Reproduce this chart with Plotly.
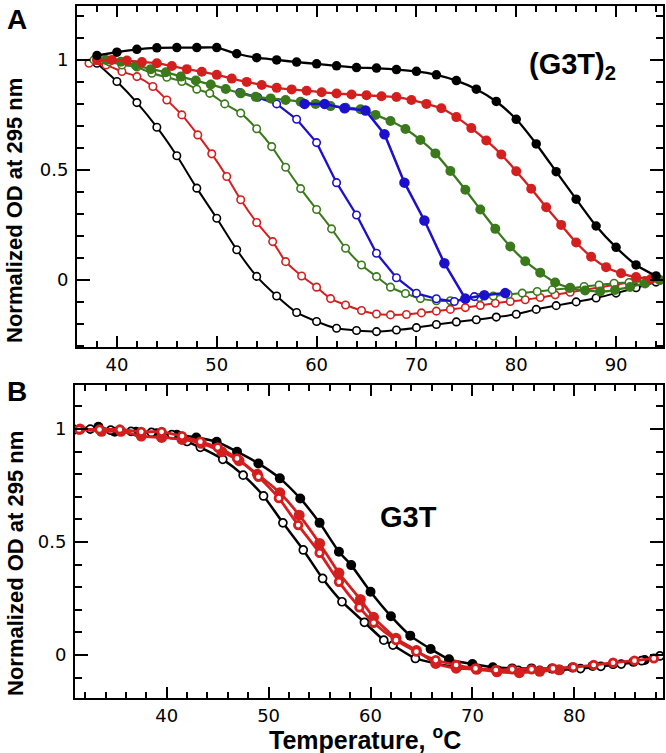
import plotly.graph_objects as go

W, H = 666, 753

# ---------------- Panel A data: (G3T)2 ----------------
a_black_filled_T = [38, 40, 42, 44, 46, 48, 50, 52, 54, 56, 58, 60, 62, 64, 66, 68, 70, 72, 74, 76, 78, 80, 82, 84, 86, 88, 90, 92, 94]
a_black_filled_v = [1.02, 1.035, 1.048, 1.055, 1.056, 1.056, 1.056, 1.028, 1.01, 1.0, 0.99, 0.982, 0.973, 0.965, 0.963, 0.956, 0.948, 0.932, 0.906, 0.867, 0.811, 0.73, 0.618, 0.492, 0.367, 0.245, 0.148, 0.068, 0.018]

a_red_filled_T = [38, 39.5, 41, 42.5, 44, 45.5, 47, 48.5, 50, 51.5, 53, 54.5, 56, 57.5, 59, 60.5, 62, 63.5, 65, 66.5, 68, 69.5, 71, 72.5, 74, 75.5, 77, 78.5, 80, 81.5, 83, 84.5, 86, 87.5, 89, 90.5, 92, 93.5]
a_red_filled_v = [1.0, 1.0, 0.997, 0.99, 0.985, 0.972, 0.958, 0.946, 0.932, 0.915, 0.9, 0.886, 0.873, 0.866, 0.86, 0.853, 0.847, 0.843, 0.839, 0.835, 0.831, 0.818, 0.8, 0.78, 0.74, 0.69, 0.634, 0.57, 0.494, 0.414, 0.33, 0.25, 0.17, 0.105, 0.058, 0.03, 0.013, 0.004]

a_green_filled_T = [38.9, 40.4, 41.9, 43.4, 44.9, 46.4, 47.9, 49.4, 50.9, 52.4, 53.9, 55.4, 56.9, 58.4, 59.9, 61.4, 62.9, 64.4, 65.9, 67.4, 68.9, 70.4, 71.9, 73.4, 74.9, 76.4, 77.9, 79.4, 80.9, 82.4, 83.9, 85.4, 86.9, 88.4, 89.9, 91.4, 92.9, 94.4]
a_green_filled_v = [1.0, 0.992, 0.975, 0.958, 0.944, 0.924, 0.906, 0.888, 0.868, 0.848, 0.832, 0.825, 0.818, 0.81, 0.8, 0.79, 0.783, 0.776, 0.75, 0.722, 0.686, 0.636, 0.575, 0.495, 0.41, 0.32, 0.232, 0.152, 0.085, 0.033, -0.012, -0.036, -0.048, -0.053, -0.046, -0.032, -0.016, 0.0]

a_blue_filled_T = [58.8, 60.8, 62.8, 64.9, 66.8, 68.8, 70.8, 72.8, 74.9, 76.8, 78.9]
a_blue_filled_v = [0.8, 0.8, 0.78, 0.77, 0.662, 0.442, 0.27, 0.076, -0.085, -0.07, -0.06]

a_blue_open_T = [52.3, 54.1, 56, 58, 60, 62, 64, 66, 68, 70, 72, 73.8, 75.8]
a_blue_open_v = [0.852, 0.83, 0.8, 0.73, 0.624, 0.442, 0.295, 0.121, 0.01, -0.061, -0.086, -0.098, -0.076]

a_green_open_T = [37.7, 39.2, 40.5, 42, 43.5, 45, 46.5, 48, 49.3, 50.8, 52.4, 54, 55.5, 56.9, 58.4, 60, 61.5, 62.9, 64.5, 66, 67.4, 68.9, 70.4, 72, 73.4, 74.9, 76.3, 77.7, 79.2, 80.6, 82.1, 83.6, 85.3, 86.8, 88.3, 89.8, 91.3, 92.8, 94.3]
a_green_open_v = [1.0, 0.992, 0.977, 0.968, 0.939, 0.921, 0.902, 0.867, 0.848, 0.8, 0.758, 0.687, 0.606, 0.512, 0.415, 0.32, 0.232, 0.144, 0.068, 0.015, -0.033, -0.062, -0.085, -0.095, -0.095, -0.088, -0.08, -0.073, -0.066, -0.06, -0.053, -0.045, -0.038, -0.03, -0.023, -0.015, -0.012, -0.006, 0.0]

a_red_open_T = [37.2, 38.9, 40.5, 42, 43.6, 45, 46.5, 48.1, 49.5, 51, 52.4, 54, 55.6, 56.9, 58.5, 60, 61.4, 62.9, 64.5, 66, 67.4, 69, 70.5, 72, 73.4, 74.9, 76.4, 77.9, 79.4, 80.9, 82.4, 83.9, 85.4, 86.9, 88.4, 89.9, 91.4, 92.9]
a_red_open_v = [0.985, 0.977, 0.947, 0.924, 0.879, 0.818, 0.75, 0.659, 0.573, 0.47, 0.364, 0.261, 0.174, 0.083, 0.018, -0.033, -0.085, -0.114, -0.139, -0.155, -0.159, -0.157, -0.15, -0.142, -0.134, -0.126, -0.116, -0.106, -0.098, -0.09, -0.08, -0.068, -0.056, -0.045, -0.033, -0.022, -0.012, -0.003]

a_black_open_T = [38, 40, 42, 44, 46, 48, 50, 52, 54, 56, 58, 60, 62, 64, 66, 68, 70, 72, 74, 76, 78, 80, 82, 84, 86, 88, 90, 92, 94]
a_black_open_v = [0.985, 0.902, 0.806, 0.694, 0.564, 0.417, 0.28, 0.137, 0.016, -0.073, -0.148, -0.189, -0.22, -0.23, -0.235, -0.228, -0.217, -0.203, -0.191, -0.181, -0.169, -0.156, -0.134, -0.117, -0.1, -0.082, -0.06, -0.036, -0.01]

# ---------------- Panel B data: G3T ----------------
b_black_filled_T = [30.9, 33.3, 34.9, 37, 39, 41, 42.9, 44.9, 46.9, 49, 51.1, 53.1, 55, 56.9, 58.1, 60, 62, 63.9, 65.9, 67.7, 70, 72, 73.9, 75.8, 77.8, 79.8, 81.8, 83.8, 85.8, 86.9]
b_black_filled_v = [0.998, 1.01, 0.988, 0.988, 0.981, 0.975, 0.963, 0.944, 0.9, 0.848, 0.782, 0.693, 0.585, 0.457, 0.398, 0.28, 0.172, 0.086, 0.027, -0.019, -0.04, -0.054, -0.059, -0.059, -0.06, -0.055, -0.048, -0.04, -0.03, -0.022]

b_black_open_T = [32.5, 34.5, 36.5, 38.5, 40.5, 42, 43.3, 45.5, 47.5, 49.5, 51.4, 53.4, 55.3, 57.2, 59.4, 61.3, 62.2, 64.4, 66.4, 68.5, 70.5, 72.5, 74.5, 76.6, 78.6, 80.6, 82.6, 84.6, 86.6, 88.4]
b_black_open_v = [1.0, 0.995, 0.99, 0.985, 0.975, 0.945, 0.919, 0.866, 0.796, 0.704, 0.585, 0.465, 0.339, 0.236, 0.145, 0.066, 0.044, -0.015, -0.037, -0.055, -0.062, -0.068, -0.068, -0.068, -0.066, -0.06, -0.05, -0.04, -0.025, -0.004]

b_red_filled_T = [31.5, 33.6, 35.5, 37.5, 39.5, 41.5, 43.4, 45.4, 47.1, 48.9, 51.1, 53, 55, 56.9, 59, 60.3, 62.5, 64.5, 66.4, 68.4, 70.4, 72.4, 74.6, 76.6, 78.5]
b_red_filled_v = [1.0, 0.99, 0.99, 0.969, 0.963, 0.954, 0.937, 0.9, 0.86, 0.8, 0.718, 0.619, 0.494, 0.363, 0.246, 0.167, 0.074, 0.02, -0.037, -0.058, -0.063, -0.074, -0.078, -0.072, -0.065]

b_red_open_T = [31.4, 33.4, 35.4, 37.5, 39.5, 41.5, 43.3, 45, 46.9, 49, 51, 52.9, 55, 56.9, 58.9, 60.3, 62.5, 64.5, 66.4, 68.4, 70.3, 72.3, 73.9, 75.8, 77.9, 79.9, 81.9, 83.8, 85.9, 87.8]
b_red_open_v = [0.998, 0.998, 0.998, 0.988, 0.988, 0.969, 0.944, 0.919, 0.87, 0.789, 0.694, 0.575, 0.452, 0.324, 0.211, 0.143, 0.066, 0.015, -0.022, -0.044, -0.059, -0.066, -0.063, -0.063, -0.059, -0.054, -0.044, -0.034, -0.025, -0.015]

# tick labels
a_xticks = [40, 50, 60, 70, 80, 90]
b_xticks = [40, 50, 60, 70, 80]
yticks = [0, 0.5, 1]
ytick_text = ["0", "0.5", "1"]

BLACK = "#000000"
RED = "#d41f1f"
GREEN = "#3b7a1c"
BLUE = "#1d10cc"

fig = go.Figure()


def add(T, v, color, filled, xa, ya, msize, lw, shape="spline", olw=1.6):
    if filled:
        marker = dict(size=msize, color=color, line=dict(width=0))
    else:
        marker = dict(size=msize, color="white", line=dict(color=color, width=olw))
    fig.add_trace(go.Scatter(
        x=T, y=v, mode="lines+markers", xaxis=xa, yaxis=ya,
        line=dict(color=color, width=lw, shape=shape, smoothing=0.6),
        marker=marker, showlegend=False, hoverinfo="skip"))


# Panel A
add(a_black_open_T, a_black_open_v, BLACK, False, "x", "y", 7.5, 2)
add(a_red_open_T, a_red_open_v, RED, False, "x", "y", 7.5, 2)
add(a_green_open_T, a_green_open_v, GREEN, False, "x", "y", 7.5, 2)
add(a_blue_open_T, a_blue_open_v, BLUE, False, "x", "y", 7.5, 2.3, shape="linear")
add(a_green_filled_T, a_green_filled_v, GREEN, True, "x", "y", 10, 2.3)
add(a_blue_filled_T, a_blue_filled_v, BLUE, True, "x", "y", 10.5, 2.5, shape="linear")
add(a_red_filled_T, a_red_filled_v, RED, True, "x", "y", 10, 2.3)
add(a_black_filled_T, a_black_filled_v, BLACK, True, "x", "y", 9.5, 2.3)

# Panel B
add(b_black_filled_T, b_black_filled_v, BLACK, True, "x2", "y2", 10, 2.5)
add(b_black_open_T, b_black_open_v, BLACK, False, "x2", "y2", 8, 2.5, olw=1.7)
add(b_red_filled_T, b_red_filled_v, RED, True, "x2", "y2", 11, 2.8)
add(b_red_open_T, b_red_open_v, RED, False, "x2", "y2", 7.5, 2.8, olw=2.8)

tickfont = dict(family="DejaVu Sans", size=18, color="black")


def xaxis(rng, dom, anchor, ticks_):
    return dict(range=rng, domain=dom, anchor=anchor, showline=True, linecolor="black",
                linewidth=2, mirror="allticks", ticks="inside", ticklen=11, tickwidth=1.5,
                tickcolor="black", tickmode="array", tickvals=ticks_,
                ticktext=[str(t) for t in ticks_], showgrid=False, zeroline=False,
                tickfont=tickfont, ticklabelstandoff=0,
                minor=dict(dtick=2, tick0=0, ticks="inside", ticklen=6, tickwidth=1.5,
                           tickcolor="black", showgrid=False))


def yaxis(rng, dom, anchor):
    return dict(range=rng, domain=dom, anchor=anchor, showline=True, linecolor="black",
                linewidth=2, mirror="allticks", ticks="inside", ticklen=13, tickwidth=1.5,
                tickcolor="black", tickmode="array", tickvals=yticks, ticktext=ytick_text,
                showgrid=False, zeroline=False, tickfont=tickfont, ticklabelstandoff=3,
                minor=dict(dtick=0.1, tick0=0, ticks="inside", ticklen=7, tickwidth=1.5,
                           tickcolor="black", showgrid=False))


def px(x):
    return x / W


def py(y):
    return 1 - y / H


fig.update_layout(
    width=W, height=H, margin=dict(l=0, r=0, t=0, b=0, autoexpand=False),
    paper_bgcolor="white", plot_bgcolor="white",
    xaxis=xaxis([36, 94.7], [px(77), px(663)], "y", a_xticks),
    yaxis=yaxis([-0.305, 1.245], [py(347), py(6)], "x"),
    xaxis2=xaxis([31, 88.7], [px(75), px(663)], "y2", b_xticks),
    yaxis2=yaxis([-0.19, 1.195], [py(698), py(385)], "x2"),
)

bold = dict(family="Liberation Sans, Arial, sans-serif", color="black")
ann = [
    dict(text="<b>A</b>", x=px(5), y=py(2), xanchor="left", yanchor="top", font=dict(size=28, **bold)),
    dict(text="<b>B</b>", x=px(5), y=py(374), xanchor="left", yanchor="top", font=dict(size=28, **bold)),
    dict(text="<b>Normalized OD at 295 nm</b>", x=px(15), y=py(211), textangle=-90,
         xanchor="center", yanchor="middle", font=dict(size=22, **bold)),
    dict(text="<b>Normalized OD at 295 nm</b>", x=px(15), y=py(564), textangle=-90,
         xanchor="center", yanchor="middle", font=dict(size=22, **bold)),
    dict(text="<b>Temperature, <sup>o</sup>C</b>", x=px(365), y=py(756),
         xanchor="center", yanchor="bottom", font=dict(size=25, **bold)),
    dict(text="<b>(G3T)<sub>2</sub></b>", x=px(527), y=py(46),
         xanchor="left", yanchor="top", font=dict(size=29, **bold)),
    dict(text="<b>G3T</b>", x=px(408), y=py(517),
         xanchor="center", yanchor="middle", font=dict(size=29, **bold)),
]
for a in ann:
    a.update(xref="paper", yref="paper", showarrow=False)
fig.update_layout(annotations=ann)

fig.write_html("out.html", config={"displayModeBar": False},
               post_script="document.body.style.margin='0px';")
